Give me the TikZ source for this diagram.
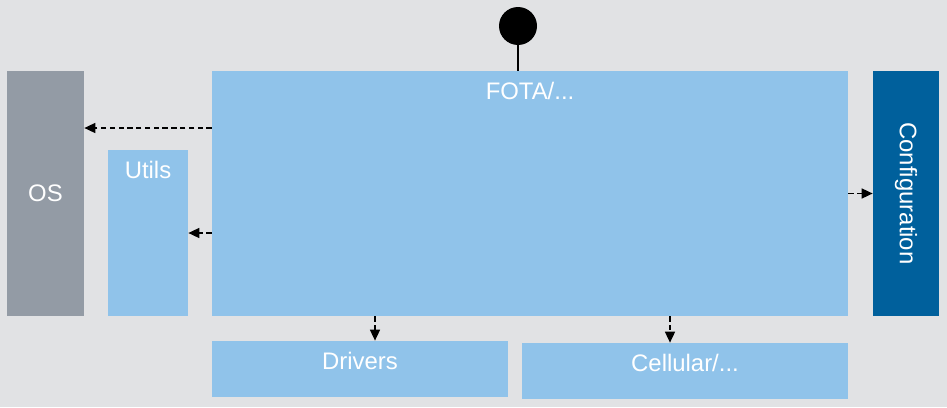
\documentclass[tikz,border=0pt]{standalone}
\usepackage{xcolor}
\usepackage{fontspec}
\setmainfont{Liberation Sans}
\usepackage{tikz}
\usetikzlibrary{positioning,arrows.meta}

\definecolor{bgGray}{HTML}{E1E2E4}
\definecolor{osGray}{HTML}{939BA5}
\definecolor{modBlue}{HTML}{90C3EA}
\definecolor{cfgBlue}{HTML}{00609C}

\begin{document}
\begin{tikzpicture}[
    every node/.style={align=center, font=\fontsize{13.6}{16}\selectfont, text=white},
    box/.style={rectangle, fill=modBlue, inner sep=0pt},
    lbl/.style={inner sep=0pt},
    dep/.style={densely dashed, line width=0.9pt, -{Triangle[length=2.2mm,width=2mm]}}]
    % background
    \fill[bgGray] (0,0) rectangle (18.94,-8.14);

    % main module
    \node (fota) [box, minimum width=12.72cm, minimum height=4.9cm] at (10.6,-3.87) {};
    \node (fotaLbl) [lbl, below=0.22cm of fota.north] {FOTA/...};

    % left side
    \node (os) [box, fill=osGray, minimum width=1.54cm, minimum height=4.9cm] at (0.91,-3.87) {OS};
    \node (utils) [box, minimum width=1.6cm, minimum height=3.32cm] at (2.96,-4.66) {};
    \node (utilsLbl) [lbl, below=0.22cm of utils.north] {Utils};

    % right side
    \node (cfg) [box, fill=cfgBlue, minimum width=1.32cm, minimum height=4.9cm] at (18.12,-3.87) {};
    \node (cfgLbl) [lbl, rotate=-90] at (cfg.center) {Configuration};

    % below
    \node (drivers) [box, minimum width=5.92cm, minimum height=1.12cm] at (7.2,-7.38) {};
    \node (driversLbl) [lbl, below=0.22cm of drivers.north] {Drivers};
    \node (cellular) [box, minimum width=6.52cm, minimum height=1.12cm] at (13.7,-7.42) {};
    \node (cellularLbl) [lbl, below=0.22cm of cellular.north] {Cellular/...};

    % interface
    \node (iface) [circle, fill=black, minimum size=0.76cm, inner sep=0pt] at (10.36,-0.52) {};
    \draw[line width=1.1pt] (iface.south) -- (iface.south |- fota.north);

    % arrows
    \draw[dep] ([yshift=1.31cm]fota.west) -- ([yshift=1.31cm]os.east);
    \draw[dep] (fota.west |- utils.east) -- (utils.east);
    \draw[dep] (fota.east) -- (cfg.west);
    \draw[dep] ([xshift=0.3cm]drivers.north |- fota.south) -- ([xshift=0.3cm]drivers.north);
    \draw[dep] ([xshift=-0.3cm]cellular.north |- fota.south) -- ([xshift=-0.3cm]cellular.north);
\end{tikzpicture}
\end{document}
